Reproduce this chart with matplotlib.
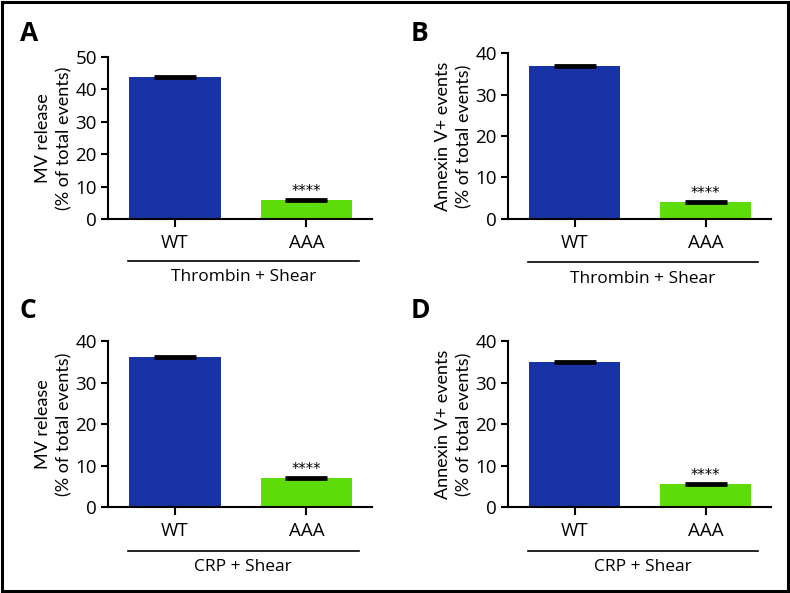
import matplotlib
matplotlib.use('Agg')
import matplotlib.pyplot as plt
from matplotlib.patches import Rectangle

# data
groups = ['WT', 'AAA']
mv_thrombin = [43.8, 5.9]
annexin_thrombin = [36.9, 4.1]
mv_crp = [36.1, 7.0]
annexin_crp = [34.9, 5.6]
sem = [0.2, 0.2]

plt.rcParams['font.family'] = ['Open Sans', 'DejaVu Sans']

blue = '#1733a6'
green = '#5edc0a'

fig = plt.figure(figsize=(7.9, 5.93), dpi=100)

panels = [
    ('A', [0.1367, 0.6307, 0.3342, 0.2732], mv_thrombin, 'MV release\n(% of total events)', 'Thrombin + Shear', 50, (0.025, 0.943)),
    ('B', [0.6430, 0.6307, 0.3329, 0.2799], annexin_thrombin, 'Annexin V+ events\n(% of total events)', 'Thrombin + Shear', 40, (0.520, 0.943)),
    ('C', [0.1367, 0.1450, 0.3342, 0.2799], mv_crp, 'MV release\n(% of total events)', 'CRP + Shear', 40, (0.025, 0.477)),
    ('D', [0.6430, 0.1450, 0.3329, 0.2799], annexin_crp, 'Annexin V+ events\n(% of total events)', 'CRP + Shear', 40, (0.520, 0.477)),
]

for letter, pos, vals, ylab, group_lab, ymax, lpos in panels:
    ax = fig.add_axes(pos)
    x = range(len(groups))
    ax.bar(x, vals, width=0.695, color=[blue, green])
    ax.errorbar(x, vals, yerr=sem, fmt='none', ecolor='black',
                elinewidth=1.2, capsize=15, capthick=2.0)
    ax.text(1, vals[1] + 0.3, '****', ha='center', va='bottom', fontsize=10.5,
            family=['DejaVu Sans'])
    ax.set_xlim(-0.51, 1.5)
    ax.set_ylim(0, ymax)
    ax.set_yticks(range(0, ymax + 1, 10))
    ax.set_xticks(list(x))
    ax.set_xticklabels(groups, fontsize=13.5)
    ax.tick_params(axis='y', labelsize=13.5, width=1.5, length=5, pad=3)
    ax.tick_params(axis='x', width=1.5, length=6, pad=5)
    for s in ['top', 'right']:
        ax.spines[s].set_visible(False)
    for s in ['left', 'bottom']:
        ax.spines[s].set_linewidth(1.5)
    ax.set_ylabel(ylab, fontsize=13, linespacing=1.4, labelpad=2,
                  family=['Lato', 'DejaVu Sans'])
    # group line under the tick labels
    ax.plot([-0.355, 1.40], [-0.262, -0.262], color='black', lw=1.2,
            transform=ax.get_xaxis_transform(), clip_on=False)
    ax.text(0.52, -0.36, group_lab, ha='center', va='center', fontsize=12.5,
            transform=ax.get_xaxis_transform())
    fig.text(lpos[0], lpos[1], letter, fontsize=19, fontweight='bold',
             ha='left', va='center')

# frame around the whole figure
fig.patches.append(Rectangle((0.002, 0.003), 0.996, 0.994, transform=fig.transFigure,
                             fill=False, edgecolor='black', linewidth=2.2))

fig.savefig('out.png', dpi=100)
